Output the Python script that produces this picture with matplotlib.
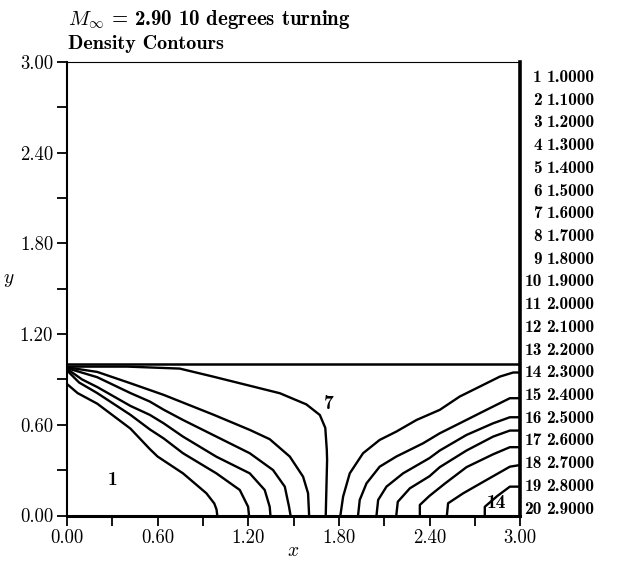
import numpy as np
import matplotlib
matplotlib.use("Agg")
from matplotlib import pyplot as plt

plt.rcParams['font.family'] = ['cmr10', 'DejaVu Serif']
plt.rcParams['mathtext.fontset'] = 'cm'
plt.rcParams['axes.formatter.use_mathtext'] = True

# Contour lines (x, y pairs), left fan from the corner
left_a_x = [0.0, 0.07, 0.2, 0.42, 0.548, 0.6, 0.768, 0.923, 0.975, 0.99, 0.995]
left_a_y = [0.87, 0.81, 0.74, 0.575, 0.44, 0.39, 0.279, 0.147, 0.08, 0.04, 0.0]
left_b_x = [0.0, 0.08, 0.2, 0.42, 0.548, 0.64, 0.768, 0.989, 1.144, 1.199, 1.205]
left_b_y = [0.96, 0.88, 0.81, 0.666, 0.57, 0.51, 0.412, 0.279, 0.169, 0.058, 0.0]
left_c_x = [0.0, 0.1, 0.2, 0.42, 0.548, 0.64, 0.768, 0.989, 1.21, 1.309, 1.342, 1.347]
left_c_y = [0.97, 0.90, 0.85, 0.725, 0.666, 0.61, 0.522, 0.389, 0.279, 0.169, 0.058, 0.0]
left_d_x = [0.0, 0.2, 0.42, 0.548, 0.64, 0.768, 0.989, 1.21, 1.364, 1.442, 1.47, 1.48]
left_d_y = [0.975, 0.915, 0.81, 0.754, 0.70, 0.632, 0.522, 0.412, 0.301, 0.191, 0.058, 0.0]
left_e_x = [0.0, 0.2, 0.42, 0.64, 0.972, 1.211, 1.342, 1.475, 1.563, 1.596, 1.603]
left_e_y = [0.98, 0.95, 0.875, 0.798, 0.666, 0.566, 0.505, 0.39, 0.257, 0.147, 0.0]
left_f_x = [0.0, 0.4, 0.746, 0.967, 1.188, 1.409, 1.585, 1.674, 1.71, 1.72, 1.722, 1.713]
left_f_y = [0.985, 0.985, 0.972, 0.919, 0.864, 0.809, 0.735, 0.665, 0.58, 0.434, 0.367, 0.0]

# right fan rising to the right edge
right_1_x = [1.81, 1.828, 1.872, 1.96, 2.07, 2.18, 2.314, 2.468, 2.60, 2.733, 2.866, 2.954, 3.0]
right_1_y = [0.0, 0.125, 0.279, 0.412, 0.5, 0.555, 0.632, 0.699, 0.787, 0.853, 0.919, 0.946, 0.946]
right_2_x = [1.927, 1.938, 1.983, 2.07, 2.18, 2.358, 2.468, 2.60, 2.777, 2.932, 3.0]
right_2_y = [0.0, 0.103, 0.213, 0.323, 0.39, 0.478, 0.544, 0.61, 0.699, 0.776, 0.776]
right_3_x = [2.049, 2.06, 2.115, 2.225, 2.40, 2.468, 2.645, 2.821, 2.932, 3.0]
right_3_y = [0.0, 0.103, 0.191, 0.279, 0.38, 0.43, 0.533, 0.61, 0.65, 0.65]
right_4_x = [2.18, 2.19, 2.27, 2.40, 2.468, 2.645, 2.821, 2.932, 3.0]
right_4_y = [0.0, 0.091, 0.18, 0.26, 0.32, 0.43, 0.522, 0.562, 0.562]
right_5_x = [2.336, 2.336, 2.40, 2.50, 2.645, 2.821, 2.932, 3.0]
right_5_y = [0.0, 0.07, 0.13, 0.21, 0.32, 0.405, 0.452, 0.452]
right_6_x = [2.515, 2.523, 2.623, 2.777, 2.932, 3.0]
right_6_y = [0.0, 0.081, 0.147, 0.235, 0.323, 0.334]
right_7_x = [2.766, 2.766, 2.85, 2.932, 3.0]
right_7_y = [0.0, 0.058, 0.13, 0.191, 0.191]

# level table on the right
level_ids = list(range(1, 21))
level_values = [1.0, 1.1, 1.2, 1.3, 1.4, 1.5, 1.6, 1.7, 1.8, 1.9,
                2.0, 2.1, 2.2, 2.3, 2.4, 2.5, 2.6, 2.7, 2.8, 2.9]

tick_vals = [0.0, 0.6, 1.2, 1.8, 2.4, 3.0]
minor_vals = [0.3, 0.9, 1.5, 2.1, 2.7]

contours = [(left_a_x, left_a_y), (left_b_x, left_b_y), (left_c_x, left_c_y),
            (left_d_x, left_d_y), (left_e_x, left_e_y), (left_f_x, left_f_y),
            (right_1_x, right_1_y), (right_2_x, right_2_y), (right_3_x, right_3_y),
            (right_4_x, right_4_y), (right_5_x, right_5_y), (right_6_x, right_6_y),
            (right_7_x, right_7_y)]

fig = plt.figure(figsize=(6.32, 5.62), dpi=100)
ax = fig.add_axes([0.106, 0.0827, 0.717, 0.807])

for xs, ys in contours:
    ax.plot(xs, ys, color='black', lw=1.7, solid_joinstyle='round')

# the wall at y = 1
ax.axhline(1.0, color='black', lw=1.8)

ax.text(0.30, 0.235, "1", fontsize=14, fontfamily='cmb10', ha='center', va='center')
ax.text(1.733, 0.738, "7", fontsize=14, fontfamily='cmb10', ha='center', va='center')
ax.text(2.844, 0.081, "14", fontsize=14, fontfamily='cmb10', ha='center', va='center')

ax.set_xlim(0, 3.0)
ax.set_ylim(0, 3.0)
ax.set_xticks(tick_vals)
ax.set_yticks(tick_vals)
ax.set_xticks(minor_vals, minor=True)
ax.set_yticks(minor_vals, minor=True)
ax.set_xticklabels(["%.2f" % v for v in tick_vals])
ax.set_yticklabels(["%.2f" % v for v in tick_vals])
ax.tick_params(which='both', direction='out', length=7, width=1.3, labelsize=13.5, pad=3)

ax.spines['top'].set_linewidth(0.8)
ax.spines['left'].set_linewidth(1.5)
ax.spines['bottom'].set_linewidth(2.2)
ax.spines['right'].set_linewidth(2.6)

ax.set_xlabel("$x$", fontsize=14, labelpad=-4)
ax.set_ylabel("$y$", fontsize=14, rotation=0, labelpad=0)
ax.yaxis.set_label_coords(-0.128, 0.5)

# level table
y_top = 0.966
step = (0.966 - 0.014) / 19
for i, (n, v) in enumerate(zip(level_ids, level_values)):
    yy = y_top - i * step
    ax.text(1.048, yy, str(n), transform=ax.transAxes, fontsize=12.5,
            fontfamily='cmb10', ha='right', va='center')
    ax.text(1.058, yy, "%.4f" % v, transform=ax.transAxes, fontsize=12.5,
            fontfamily='cmb10', ha='left', va='center')

fig.text(0.107, 0.966, r"$M_\infty$ = 2.90 10 degrees turning", fontsize=15,
         fontfamily='cmb10', ha='left', va='center')
fig.text(0.107, 0.921, "Density Contours", fontsize=14.5, fontfamily='cmb10',
         ha='left', va='center')

fig.savefig("out.png", dpi=100)
